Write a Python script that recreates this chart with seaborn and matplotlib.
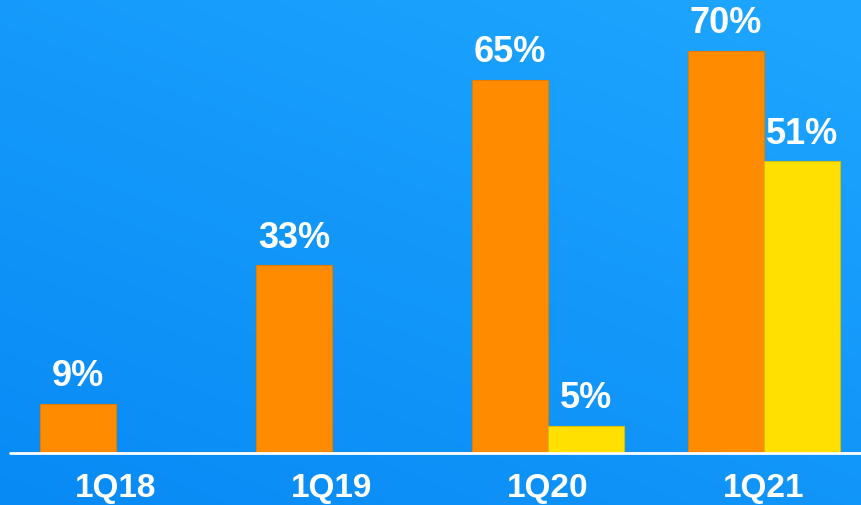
import numpy as np
import pandas as pd
import matplotlib
matplotlib.use("Agg")
import matplotlib.pyplot as plt
import seaborn as sns

quarters = ["1Q18", "1Q19", "1Q20", "1Q21"]
orange_vals = [8.6, 32.7, 65, 70]
yellow_vals = [np.nan, np.nan, 4.7, 50.8]
orange_labels = ["9%", "33%", "65%", "70%"]
yellow_labels = ["", "", "5%", "51%"]

df = pd.DataFrame({
    "quarter": quarters * 2,
    "series": ["A"] * 4 + ["B"] * 4,
    "value": orange_vals + yellow_vals,
})

sns.set_style("white")
plt.rcParams["font.family"] = ["Liberation Sans", "DejaVu Sans"]

fig = plt.figure(figsize=(8.62, 5.05), dpi=100)
ax = fig.add_axes([0, 0, 1, 1])

# blue gradient background
yy, xx = np.mgrid[0:1:200j, 0:1:200j]
t = 0.6 * yy + 0.4 * xx
top = np.array([30, 166, 255]) / 255
bot = np.array([8, 138, 245]) / 255
grad = bot + (top - bot) * t[..., None]
ax.imshow(grad, extent=[0, 1, 0, 1], transform=ax.transAxes,
          origin="lower", aspect="auto", zorder=0)

sns.barplot(data=df, x="quarter", y="value", hue="series",
            palette={"A": "#FF8C00", "B": "#FFE000"}, width=0.704,
            saturation=1, legend=False, ax=ax, zorder=2)

edges = {"A": "#E57C00", "B": "#D9BE00"}
for container, key, labels in zip(ax.containers, ["A", "B"], [orange_labels, yellow_labels]):
    for bar in container:
        bar.set_edgecolor(edges[key])
        bar.set_linewidth(0.8)
    labels = labels[-len(container):]
    ax.bar_label(container, labels=labels, padding=7, color="white",
                 fontsize=26, fontweight="bold")

ax.axhline(0, xmin=10 / 862, xmax=1, color="white", lw=2, zorder=3)

for i, q in enumerate(quarters):
    ax.text(i, -6.2, q, ha="center", va="center", color="white",
            fontsize=24, fontweight="bold")

ax.set_xlim(-0.537, 3.454)
ax.set_ylim(-9.05, 78.9)
ax.axis("off")

fig.savefig("out.png", dpi=100)
